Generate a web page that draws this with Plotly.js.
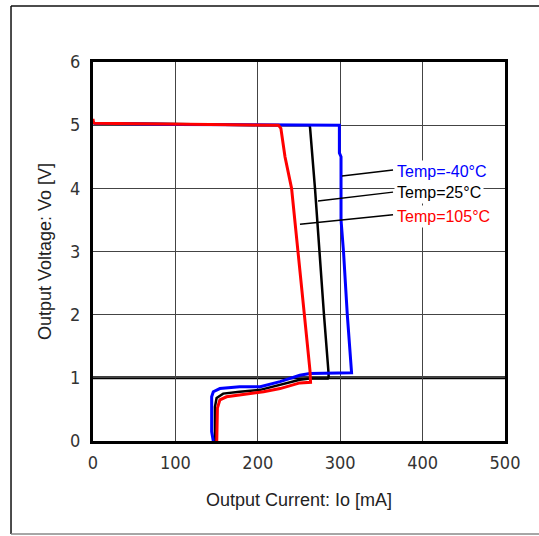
<!DOCTYPE html>
<html>
<head>
<meta charset="utf-8">
<script src="https://cdn.plot.ly/plotly-3.0.1.min.js"></script>
<style>html,body{margin:0;padding:0;background:#fff;}#chart{width:539px;height:536px;}</style>
</head>
<body>
<div id="chart"></div>
<script>
// Output current (mA) and output voltage (V) for each temperature
const seriesNames = ["Temp=25°C", "Temp=-40°C", "Temp=105°C"];
const seriesColors = ["#000000", "#0000ff", "#ff0000"];

const io25 = [0, 2, 100, 200, 263, 263.5, 269.4, 274.7, 280.3, 285.6, 286, 285, 263, 251, 227, 203, 178, 158, 150, 148, 148];
const vo25 = [5.04, 5.03, 5.02, 5.0, 5.0, 4.95, 4.0, 3.0, 2.0, 1.12, 1.02, 0.99, 0.99, 0.97, 0.89, 0.81, 0.78, 0.75, 0.68, 0.54, 0];

const ioM40 = [0, 2, 100, 200, 299, 299, 301, 301, 304, 308.6, 312.7, 313.8, 313.8, 263, 251, 227, 203, 178, 154, 146, 144, 144, 146];
const voM40 = [5.04, 5.03, 5.01, 5.0, 5.0, 4.56, 4.5, 3.5, 3.0, 2.0, 1.15, 1.09, 1.08, 1.07, 1.04, 0.94, 0.86, 0.86, 0.83, 0.78, 0.70, 0.15, 0];

const io105 = [0, 0.5, 2, 100, 200, 225, 228, 233, 241, 249.2, 256.5, 263.3, 264, 264, 251, 227, 207, 178, 162, 154, 151, 150.2];
const vo105 = [5.1, 5.04, 5.03, 5.02, 5.0, 5.0, 4.95, 4.5, 4.0, 3.0, 2.0, 1.12, 0.94, 0.93, 0.92, 0.83, 0.78, 0.73, 0.70, 0.65, 0.52, 0];

const xTicks = [0, 100, 200, 300, 400, 500];
const yTicks = [0, 1, 2, 3, 4, 5, 6];

const xs = [io25, ioM40, io105];
const ys = [vo25, voM40, vo105];
const widths = [2.5, 3, 3];

const traces = xs.map((x, i) => ({
  x: x, y: ys[i], type: "scatter", mode: "lines", name: seriesNames[i],
  line: {color: seriesColors[i], width: widths[i]}, showlegend: false
}));

const tickFont = {family: "'Liberation Sans Narrow', 'Arial Narrow', 'DejaVu Sans Condensed', 'Liberation Sans', sans-serif", size: 18, color: "#333"};
const titleFont = {family: "'Liberation Sans', Arial, sans-serif", size: 18, color: "#222"};

const labelY = [3.93, 4.27, 3.56];
const leaderFrom = [[273.1, 3.80], [302.2, 4.195], [251.2, 3.43]];
const leaderTo = [[364.1, 3.94], [364.1, 4.29], [364.1, 3.58]];

const shapes = [
  {type: "line", xref: "x", yref: "y", x0: 0, x1: 500, y0: 1, y1: 1, line: {color: "#000", width: 3}, layer: "below"},
  {type: "line", xref: "paper", yref: "paper", x0: -0.199, x1: 1.09, y0: 1.1478, y1: 1.1478, line: {color: "#111", width: 1.5}},
  {type: "line", xref: "paper", yref: "paper", x0: -0.199, x1: -0.199, y0: 1.1478, y1: -0.2454, line: {color: "#111", width: 1.5}},
  {type: "line", xref: "paper", yref: "paper", x0: -0.199, x1: 1.09, y0: -0.2454, y1: -0.2454, line: {color: "#888", width: 1.5}}
];
leaderFrom.forEach((p, i) => {
  shapes.push({type: "line", xref: "x", yref: "y", x0: p[0], y0: p[1], x1: leaderTo[i][0], y1: leaderTo[i][1], line: {color: "#000", width: 1.5}});
});

const annotations = seriesNames.map((t, i) => ({
  x: 365.5, y: labelY[i], xref: "x", yref: "y", xanchor: "left", yanchor: "middle",
  text: t, showarrow: false, bgcolor: "#fff", borderpad: 2,
  font: {family: "'Liberation Sans', Arial, sans-serif", size: 16, color: seriesColors[i]}
}));

const layout = {
  width: 539, height: 536,
  margin: {l: 93, r: 34, t: 62, b: 95},
  paper_bgcolor: "#fff", plot_bgcolor: "#fff",
  xaxis: {
    range: [0, 500], tickvals: xTicks, ticktext: xTicks.map(String),
    showgrid: true, gridcolor: "#444", gridwidth: 1.3, zeroline: false,
    showline: true, linecolor: "#000", linewidth: 3, mirror: true,
    ticks: "", tickfont: tickFont, ticklabelstandoff: 3,
    title: {text: "Output Current: Io [mA]", font: titleFont, standoff: 22}
  },
  yaxis: {
    range: [0, 6], tickvals: yTicks, ticktext: yTicks.map(String),
    showgrid: true, gridcolor: "#444", gridwidth: 1.3, zeroline: false,
    showline: true, linecolor: "#000", linewidth: 3, mirror: true,
    ticks: "", tickfont: tickFont, ticklabelstandoff: 6,
    title: {text: "Output Voltage: Vo [V]", font: titleFont, standoff: 14}
  },
  shapes: shapes,
  annotations: annotations
};

Plotly.newPlot("chart", traces, layout, {staticPlot: true, displayModeBar: false});
</script>
</body>
</html>
